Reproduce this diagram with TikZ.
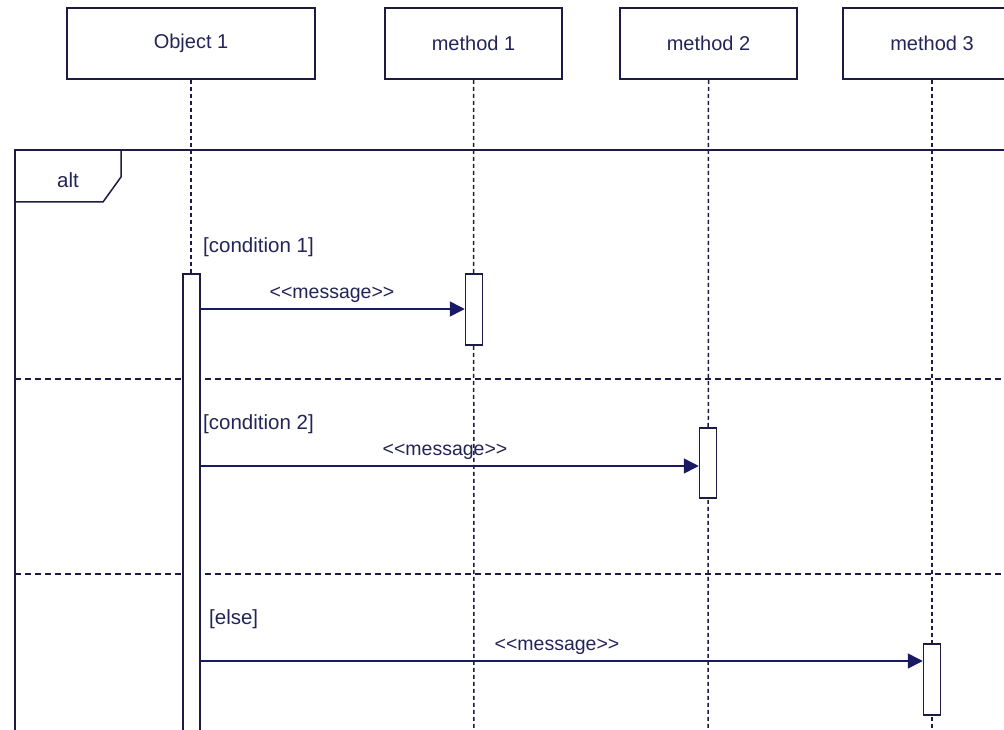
\documentclass[tikz,border=0pt]{standalone}
\usepackage{fontspec}
\setmainfont{Liberation Sans}
\usetikzlibrary{arrows.meta}
\definecolor{ink}{RGB}{28,28,66}
\definecolor{txt}{RGB}{36,36,88}
\definecolor{msgc}{RGB}{26,26,100}
\tikzset{
  header/.style={draw=ink, line width=1.7pt, fill=white, minimum height=71pt,
    inner sep=0pt, text=txt, font=\fontsize{20}{20}\selectfont},
  actbar/.style={draw=ink, line width=1.5pt, fill=white, minimum width=17pt,
    inner sep=0pt},
  lifeline/.style={draw=ink, line width=1.5pt, dash pattern=on 4pt off 3pt},
  divider/.style={draw=ink, line width=1.4pt, dash pattern=on 6pt off 4pt},
  msg/.style={draw=msgc, line width=1.6pt, -{Triangle[length=15pt,width=15pt]}},
  lbl/.style={text=txt, inner sep=0pt, font=\fontsize{20.5}{20.5}\selectfont},
  msglbl/.style={text=txt, inner sep=0pt, font=\fontsize{19.5}{19.5}\selectfont},
}
\begin{document}
\begin{tikzpicture}[x=1pt, y=-1pt]
  \clip (0,0) rectangle (1004,730);
  \fill[white] (0,0) rectangle (1004,730);

  % participants
  \node[header, minimum width=248pt] (o1) at (191,43.5) {Object 1};
  \node[header, minimum width=177pt] (p1) at (473.5,43.5) {method 1};
  \node[header, minimum width=177pt] (p2) at (708.5,43.5) {method 2};
  \node[header, minimum width=178pt] (p3) at (932,43.5) {method 3};

  % lifeline ends below the visible area
  \coordinate (e0) at (191,740);
  \coordinate (e1) at (474,740);
  \coordinate (e2) at (708,740);
  \coordinate (e3) at (932,740);
  \draw[lifeline] (o1.south) -- (e0);
  \draw[lifeline] (p1.south) -- (e1);
  \draw[lifeline] (p2.south) -- (e2);
  \draw[lifeline] (p3.south) -- (e3);

  % alt combined fragment
  \draw[ink, line width=1.7pt] (1010,150) -- (15,150) -- (15,740);
  \draw[ink, line width=1.5pt] (121,150) -- (121,177) -- (103,202) -- (15,202);
  \node[lbl] (alt) at (68,180) {alt};
  \draw[divider] (15,379) -- (1010,379);
  \draw[divider] (15,574) -- (1010,574);

  % activation bars
  \node[actbar, minimum height=480pt, anchor=north] (a0) at (191.5,273) {};
  \node[actbar, minimum height=71pt, anchor=north] (a1) at (474,273) {};
  \node[actbar, minimum height=70pt, anchor=north] (a2) at (708,427) {};
  \node[actbar, minimum height=71pt, anchor=north] (a3) at (932,643) {};

  % guards
  \node[lbl, anchor=west] (g1) at (203,247) {[condition 1]};
  \node[lbl, anchor=west] (g2) at (203,424) {[condition 2]};
  \node[lbl, anchor=west] (g3) at (209,619) {[else]};

  % messages
  \coordinate (m1) at (0,309);
  \coordinate (m2) at (0,466);
  \coordinate (m3) at (0,661);
  \draw[msg] (a0.east |- m1) -- (a1.west |- m1);
  \draw[msg] (a0.east |- m2) -- (a2.west |- m2);
  \draw[msg] (a0.east |- m3) -- (a3.west |- m3);
  \node[msglbl] (t1) at (332,295) {<{}<message>{}>};
  \node[msglbl] (t2) at (445,452) {<{}<message>{}>};
  \node[msglbl] (t3) at (557,647) {<{}<message>{}>};
\end{tikzpicture}
\end{document}
